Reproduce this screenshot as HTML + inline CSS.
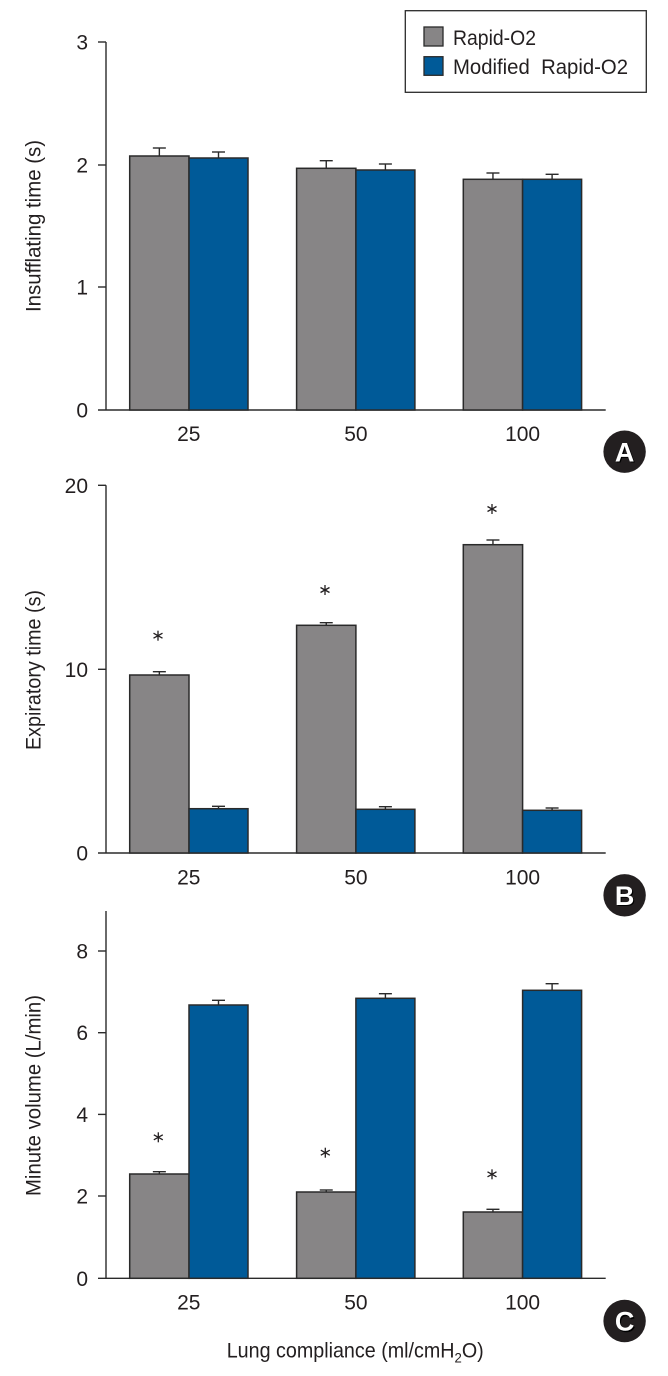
<!DOCTYPE html>
<html>
<head>
<meta charset="utf-8">
<style>
html,body{margin:0;padding:0;background:#fff;}
svg{display:block;}
text{font-family:"Liberation Sans",sans-serif;fill:#231f20;}
</style>
</head>
<body>
<svg width="668" height="1376" viewBox="0 0 668 1376" xmlns="http://www.w3.org/2000/svg">
<defs>
  <g id="ast">
    <line x1="0" y1="-5" x2="0" y2="5" stroke="#231f20" stroke-width="1.3"/>
    <line x1="-4.5" y1="-2.5" x2="4.5" y2="2.5" stroke="#231f20" stroke-width="1.3"/>
    <line x1="-4.5" y1="2.5" x2="4.5" y2="-2.5" stroke="#231f20" stroke-width="1.3"/>
  </g>
</defs>

<!-- ================= PANEL A ================= -->
<g stroke="#2b2b2b" stroke-width="1.4" fill="none">
  <line x1="106" y1="42" x2="106" y2="410"/>
  <line x1="98" y1="410" x2="605.7" y2="410"/>
  <line x1="98" y1="42" x2="106" y2="42"/>
  <line x1="98" y1="165" x2="106" y2="165"/>
  <line x1="98" y1="287" x2="106" y2="287"/>
</g>
<g font-size="21" text-anchor="end">
  <text x="88" y="49.5">3</text>
  <text x="88" y="172.5">2</text>
  <text x="88" y="294.5">1</text>
  <text x="88" y="417.5">0</text>
</g>
<g font-size="21" text-anchor="middle">
  <text x="188.8" y="441">25</text>
  <text x="355.9" y="441">50</text>
  <text x="522.6" y="441">100</text>
</g>
<text transform="translate(40.5,226) rotate(-90)" font-size="21" text-anchor="middle" textLength="172" lengthAdjust="spacingAndGlyphs">Insufflating time (s)</text>

<!-- bars A -->
<g stroke="#2a2a2a" stroke-width="1.5">
  <rect x="129.7" y="156" width="59.3" height="254" fill="#878586"/>
  <rect x="189" y="158" width="59" height="252" fill="#005a98"/>
  <rect x="296.6" y="168.3" width="59.3" height="241.7" fill="#878586"/>
  <rect x="355.9" y="170" width="59" height="240" fill="#005a98"/>
  <rect x="463.3" y="179.3" width="59.3" height="230.7" fill="#878586"/>
  <rect x="522.6" y="179.3" width="59" height="230.7" fill="#005a98"/>
</g>
<g stroke="#2a2a2a" stroke-width="1.4">
  <line x1="159.35" y1="156" x2="159.35" y2="148"/><line x1="152.85" y1="148" x2="165.85" y2="148"/>
  <line x1="218.5" y1="158" x2="218.5" y2="152"/><line x1="212" y1="152" x2="225" y2="152"/>
  <line x1="326.25" y1="168.3" x2="326.25" y2="160.7"/><line x1="319.75" y1="160.7" x2="332.75" y2="160.7"/>
  <line x1="385.4" y1="170" x2="385.4" y2="164"/><line x1="378.9" y1="164" x2="391.9" y2="164"/>
  <line x1="492.95" y1="179.3" x2="492.95" y2="173"/><line x1="486.45" y1="173" x2="499.45" y2="173"/>
  <line x1="552.1" y1="179.3" x2="552.1" y2="174.3"/><line x1="545.6" y1="174.3" x2="558.6" y2="174.3"/>
</g>

<!-- legend -->
<rect x="405.3" y="10.7" width="241" height="81.6" fill="#fff" stroke="#2b2b2b" stroke-width="1.3"/>
<rect x="424" y="27" width="19" height="19" fill="#878586" stroke="#2a2a2a" stroke-width="1.3"/>
<rect x="424" y="56.7" width="19" height="18.6" fill="#005a98" stroke="#2a2a2a" stroke-width="1.3"/>
<text x="453" y="45" font-size="21" textLength="83" lengthAdjust="spacingAndGlyphs">Rapid-O2</text>
<text x="453" y="74" font-size="21" textLength="175" lengthAdjust="spacingAndGlyphs">Modified&#160; Rapid-O2</text>

<!-- label A -->
<circle cx="624.6" cy="451.7" r="21.2" fill="#231f20"/>
<text x="625.8" y="462.5" font-size="27" font-weight="bold" text-anchor="middle" style="fill:#000">A</text>
<text x="624.6" y="461.3" font-size="27" font-weight="bold" text-anchor="middle" style="fill:#fff">A</text>

<!-- ================= PANEL B ================= -->
<g stroke="#2b2b2b" stroke-width="1.4" fill="none">
  <line x1="106" y1="485.3" x2="106" y2="853"/>
  <line x1="98" y1="853" x2="605.7" y2="853"/>
  <line x1="98" y1="485.3" x2="106" y2="485.3"/>
  <line x1="98" y1="669.3" x2="106" y2="669.3"/>
</g>
<g font-size="21" text-anchor="end">
  <text x="88" y="492.8">20</text>
  <text x="88" y="676.8">10</text>
  <text x="88" y="860.5">0</text>
</g>
<g font-size="21" text-anchor="middle">
  <text x="188.8" y="884.5">25</text>
  <text x="355.9" y="884.5">50</text>
  <text x="522.6" y="884.5">100</text>
</g>
<text transform="translate(40.5,670) rotate(-90)" font-size="21" text-anchor="middle" textLength="160" lengthAdjust="spacingAndGlyphs">Expiratory time (s)</text>

<g stroke="#2a2a2a" stroke-width="1.5">
  <rect x="129.7" y="675" width="59.3" height="178" fill="#878586"/>
  <rect x="189" y="808.7" width="59" height="44.3" fill="#005a98"/>
  <rect x="296.6" y="625.3" width="59.3" height="227.7" fill="#878586"/>
  <rect x="355.9" y="809.3" width="59" height="43.7" fill="#005a98"/>
  <rect x="463.3" y="544.7" width="59.3" height="308.3" fill="#878586"/>
  <rect x="522.6" y="810.3" width="59" height="42.7" fill="#005a98"/>
</g>
<g stroke="#2a2a2a" stroke-width="1.4">
  <line x1="159.35" y1="675" x2="159.35" y2="671.7"/><line x1="152.85" y1="671.7" x2="165.85" y2="671.7"/>
  <line x1="218.5" y1="808.7" x2="218.5" y2="806.3"/><line x1="212" y1="806.3" x2="225" y2="806.3"/>
  <line x1="326.25" y1="625.3" x2="326.25" y2="622.7"/><line x1="319.75" y1="622.7" x2="332.75" y2="622.7"/>
  <line x1="385.4" y1="809.3" x2="385.4" y2="806.7"/><line x1="378.9" y1="806.7" x2="391.9" y2="806.7"/>
  <line x1="492.95" y1="544.7" x2="492.95" y2="540"/><line x1="486.45" y1="540" x2="499.45" y2="540"/>
  <line x1="552.1" y1="810.3" x2="552.1" y2="808"/><line x1="545.6" y1="808" x2="558.6" y2="808"/>
</g>
<use href="#ast" x="158" y="635.7"/>
<use href="#ast" x="325" y="590"/>
<use href="#ast" x="492" y="509"/>

<circle cx="624.6" cy="895.3" r="21.2" fill="#231f20"/>
<text x="625.8" y="906.1" font-size="27" font-weight="bold" text-anchor="middle" style="fill:#000">B</text>
<text x="624.6" y="904.9" font-size="27" font-weight="bold" text-anchor="middle" style="fill:#fff">B</text>

<!-- ================= PANEL C ================= -->
<g stroke="#2b2b2b" stroke-width="1.4" fill="none">
  <line x1="106" y1="911" x2="106" y2="1278.3"/>
  <line x1="98" y1="1278.3" x2="605.7" y2="1278.3"/>
  <line x1="98" y1="951" x2="106" y2="951"/>
  <line x1="98" y1="1032.7" x2="106" y2="1032.7"/>
  <line x1="98" y1="1114.4" x2="106" y2="1114.4"/>
  <line x1="98" y1="1196" x2="106" y2="1196"/>
</g>
<g font-size="21" text-anchor="end">
  <text x="88" y="958.5">8</text>
  <text x="88" y="1040.2">6</text>
  <text x="88" y="1121.9">4</text>
  <text x="88" y="1203.5">2</text>
  <text x="88" y="1285.8">0</text>
</g>
<g font-size="21" text-anchor="middle">
  <text x="188.8" y="1309.3">25</text>
  <text x="355.9" y="1309.3">50</text>
  <text x="522.6" y="1309.3">100</text>
</g>
<text transform="translate(40.5,1095.5) rotate(-90)" font-size="21" text-anchor="middle" textLength="201" lengthAdjust="spacingAndGlyphs">Minute volume (L/min)</text>

<g stroke="#2a2a2a" stroke-width="1.5">
  <rect x="129.7" y="1174" width="59.3" height="104.3" fill="#878586"/>
  <rect x="189" y="1005" width="59" height="273.3" fill="#005a98"/>
  <rect x="296.6" y="1192" width="59.3" height="86.3" fill="#878586"/>
  <rect x="355.9" y="998.3" width="59" height="280" fill="#005a98"/>
  <rect x="463.3" y="1212" width="59.3" height="66.3" fill="#878586"/>
  <rect x="522.6" y="990.3" width="59" height="288" fill="#005a98"/>
</g>
<g stroke="#2a2a2a" stroke-width="1.4">
  <line x1="159.35" y1="1174" x2="159.35" y2="1171.7"/><line x1="152.85" y1="1171.7" x2="165.85" y2="1171.7"/>
  <line x1="218.5" y1="1005" x2="218.5" y2="1000.3"/><line x1="212" y1="1000.3" x2="225" y2="1000.3"/>
  <line x1="326.25" y1="1192" x2="326.25" y2="1190"/><line x1="319.75" y1="1190" x2="332.75" y2="1190"/>
  <line x1="385.4" y1="998.3" x2="385.4" y2="993.7"/><line x1="378.9" y1="993.7" x2="391.9" y2="993.7"/>
  <line x1="492.95" y1="1212" x2="492.95" y2="1209.3"/><line x1="486.45" y1="1209.3" x2="499.45" y2="1209.3"/>
  <line x1="552.1" y1="990.3" x2="552.1" y2="983.7"/><line x1="545.6" y1="983.7" x2="558.6" y2="983.7"/>
</g>
<use href="#ast" x="158.3" y="1137.3"/>
<use href="#ast" x="325.3" y="1152.7"/>
<use href="#ast" x="492" y="1174.3"/>

<circle cx="624.6" cy="1321" r="21.2" fill="#231f20"/>
<text x="625.8" y="1331.8" font-size="27" font-weight="bold" text-anchor="middle" style="fill:#000">C</text>
<text x="624.6" y="1330.6" font-size="27" font-weight="bold" text-anchor="middle" style="fill:#fff">C</text>

<!-- x-axis title -->
<text transform="translate(226.7,1357.7) scale(0.939,1)" font-size="21">Lung compliance (ml/cmH<tspan font-size="14" dy="5">2</tspan><tspan dy="-5">O)</tspan></text>
</svg>
</body>
</html>
